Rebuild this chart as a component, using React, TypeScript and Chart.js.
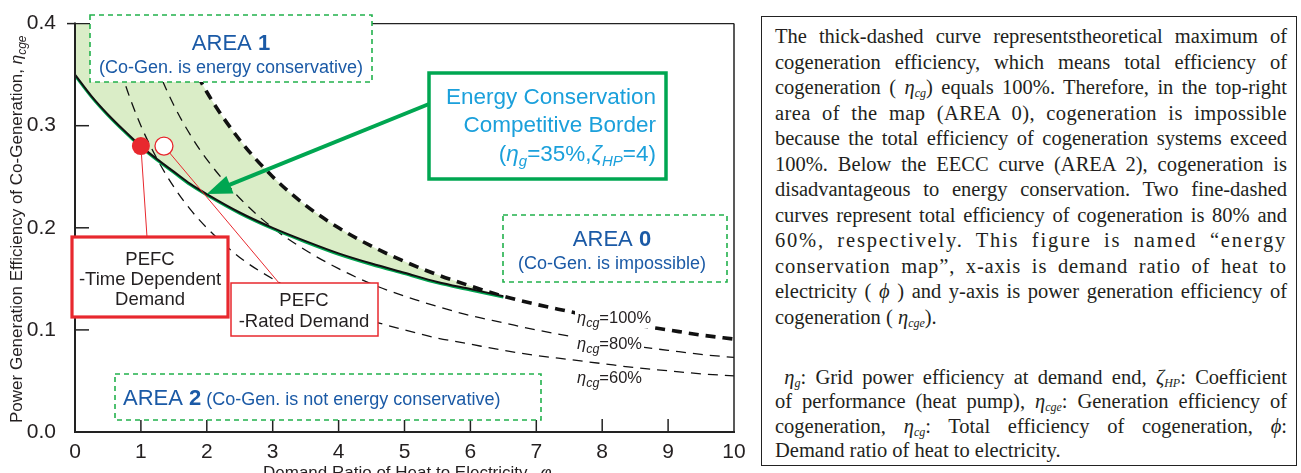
import React, { useEffect, useRef } from "react";
import { Chart, registerables } from "chart.js";

Chart.register(...registerables);

// ---------- data ----------
const PHI = [0, 0.25, 0.5, 0.75, 1, 1.25, 1.5, 1.75, 2, 2.5, 3, 3.5, 4, 4.5, 5, 5.5, 6, 6.5, 7, 7.5, 8, 8.5, 9, 9.5, 10];
const ETA_CG_100 = [1.0, 0.8, 0.667, 0.571, 0.5, 0.444, 0.4, 0.364, 0.333, 0.286, 0.25, 0.222, 0.2, 0.182, 0.167, 0.154, 0.143, 0.133, 0.125, 0.118, 0.111, 0.105, 0.1, 0.095, 0.091];
const ETA_CG_80 = [0.8, 0.64, 0.533, 0.457, 0.4, 0.356, 0.32, 0.291, 0.267, 0.229, 0.2, 0.178, 0.16, 0.145, 0.133, 0.123, 0.114, 0.107, 0.1, 0.094, 0.089, 0.084, 0.08, 0.076, 0.073];
const ETA_CG_60 = [0.6, 0.48, 0.4, 0.343, 0.3, 0.267, 0.24, 0.218, 0.2, 0.171, 0.15, 0.133, 0.12, 0.109, 0.1, 0.092, 0.086, 0.08, 0.075, 0.071, 0.067, 0.063, 0.06, 0.057, 0.055];
const PHI_EECC = [0, 0.25, 0.5, 0.75, 1, 1.25, 1.5, 1.75, 2, 2.5, 3, 3.5, 4, 4.5, 5, 5.5, 6, 6.5];
const ETA_EECC = [0.35, 0.329, 0.311, 0.295, 0.28, 0.267, 0.255, 0.243, 0.233, 0.215, 0.2, 0.187, 0.175, 0.165, 0.156, 0.147, 0.14, 0.133];
const ETA_AREA1_TOP = ETA_CG_100.slice(0, PHI_EECC.length);
const PEFC_PHI = [1.0, 1.35];
const PEFC_ETA = [0.28, 0.28];
const X_TICKS = [0, 1, 2, 3, 4, 5, 6, 7, 8, 9, 10];
const Y_TICKS = [0, 0.1, 0.2, 0.3, 0.4];
const CURVE_LABELS = ["=100%", "=80%", "=60%"];
const ARROW_TARGET_INDEX = 8; // EECC point at phi = 2

// ---------- styles ----------
const SANS = '"Liberation Sans", Arial, Helvetica, sans-serif';
const SERIF = '"Liberation Serif", "Times New Roman", serif';
const GREEN = "#00a651";
const DASH_GREEN = "#22b14c";
const FILL_GREEN = "#daedc7";
const BLUE = "#1b5aa6";
const LIGHT_BLUE = "#1ba0db";
const RED = "#e8282e";
const INK = "#231f20";

type Part = { t: string; size: number; italic?: boolean; bold?: boolean; dy?: number };

function fontOf(p: Part) {
  return `${p.italic ? "italic " : ""}${p.bold ? "bold " : ""}${p.size}px ${SANS}`;
}
function richWidth(ctx: CanvasRenderingContext2D, parts: Part[]) {
  let w = 0;
  for (const p of parts) {
    ctx.font = fontOf(p);
    w += ctx.measureText(p.t).width;
  }
  return w;
}
function drawRich(ctx: CanvasRenderingContext2D, parts: Part[], x: number, y: number, align: "left" | "center" | "right", color: string) {
  const w = richWidth(ctx, parts);
  let cx = align === "left" ? x : align === "center" ? x - w / 2 : x - w;
  ctx.textAlign = "left";
  ctx.textBaseline = "alphabetic";
  ctx.fillStyle = color;
  for (const p of parts) {
    ctx.font = fontOf(p);
    ctx.fillText(p.t, cx, y + (p.dy || 0));
    cx += ctx.measureText(p.t).width;
  }
  return w;
}
function dashedBox(ctx: CanvasRenderingContext2D, x0: number, y0: number, x1: number, y1: number) {
  ctx.save();
  ctx.fillStyle = "#fff";
  ctx.fillRect(x0, y0, x1 - x0, y1 - y0);
  ctx.setLineDash([5, 4]);
  ctx.strokeStyle = DASH_GREEN;
  ctx.lineWidth = 1.6;
  ctx.strokeRect(x0, y0, x1 - x0, y1 - y0);
  ctx.restore();
}
function solidBox(ctx: CanvasRenderingContext2D, x0: number, y0: number, x1: number, y1: number, color: string, lw: number) {
  ctx.save();
  ctx.fillStyle = "#fff";
  ctx.fillRect(x0, y0, x1 - x0, y1 - y0);
  ctx.strokeStyle = color;
  ctx.lineWidth = lw;
  ctx.strokeRect(x0, y0, x1 - x0, y1 - y0);
  ctx.restore();
}
function line(ctx: CanvasRenderingContext2D, x0: number, y0: number, x1: number, y1: number, color: string, lw: number) {
  ctx.save();
  ctx.strokeStyle = color;
  ctx.lineWidth = lw;
  ctx.beginPath();
  ctx.moveTo(x0, y0);
  ctx.lineTo(x1, y1);
  ctx.stroke();
  ctx.restore();
}
function leader(ctx: CanvasRenderingContext2D, px: number, py: number, tx: number, ty: number, r: number) {
  const dx = tx - px, dy = ty - py;
  const d = Math.hypot(dx, dy);
  line(ctx, px + (dx / d) * r, py + (dy / d) * r, tx, ty, RED, 1);
}

const decor = {
  id: "decor",
  beforeDatasetDraw(chart: any, args: any) {
    if (args.index === 1) {
      chart.ctx.save();
      chart.ctx.translate(0, 1.2);
    }
  },
  afterDatasetDraw(chart: any, args: any) {
    if (args.index === 1) chart.ctx.restore();
  },
  afterDatasetsDraw(chart: any) {
    const ctx: CanvasRenderingContext2D = chart.ctx;
    const a = chart.chartArea;
    const xs = chart.scales.x;
    const ys = chart.scales.y;

    // frame
    line(ctx, a.left, a.top, a.right, a.top, "#222", 1.1);
    line(ctx, a.right, a.top, a.right, a.bottom, "#222", 1.5);
    line(ctx, a.left, a.top - 1, a.left, a.bottom + 1, "#222", 2);
    line(ctx, a.left - 1, a.bottom, a.right + 1, a.bottom, "#222", 2);
    for (const v of X_TICKS.slice(1, -1)) {
      const px = xs.getPixelForValue(v);
      line(ctx, px, a.bottom, px, a.bottom - 13, "#222", 1.5);
    }
    for (const v of Y_TICKS.slice(1, -1)) {
      const py = ys.getPixelForValue(v);
      line(ctx, a.left, py, a.left + 14, py, "#222", 1.5);
    }
    const p4 = ys.getPixelForValue(Y_TICKS[Y_TICKS.length - 1]);
    line(ctx, a.left - 8, p4, a.left, p4, "#222", 1.5);

    // AREA boxes
    dashedBox(ctx, 90, 15, 372, 82);
    drawRich(ctx, [{ t: "AREA ", size: 22 }, { t: "1", size: 22, bold: true }], 231, 50, "center", BLUE);
    drawRich(ctx, [{ t: "(Co-Gen. is energy conservative)", size: 18 }], 231, 72.5, "center", BLUE);

    dashedBox(ctx, 503, 215, 727, 282);
    drawRich(ctx, [{ t: "AREA ", size: 22 }, { t: "0", size: 22, bold: true }], 612, 246, "center", BLUE);
    drawRich(ctx, [{ t: "(Co-Gen. is impossible)", size: 18 }], 612, 269, "center", BLUE);

    dashedBox(ctx, 115, 374, 541, 420);
    drawRich(ctx, [{ t: "AREA ", size: 22 }, { t: "2", size: 22, bold: true }, { t: " (Co-Gen. is not energy conservative)", size: 18 }], 123, 405, "left", BLUE);

    // curve labels (white background hides the curves beneath)
    const labelBase = [322.5, 349, 383];
    CURVE_LABELS.forEach((txt, i) => {
      const parts: Part[] = [{ t: "\u03B7", size: 16.5, italic: true }, { t: "cg", size: 12.5, italic: true, dy: 4 }, { t: txt, size: 16.5 }];
      const w = richWidth(ctx, parts);
      ctx.fillStyle = "#fff";
      ctx.fillRect(575, labelBase[i] - 13, w + 4, 19);
      drawRich(ctx, parts, 577, labelBase[i], "left", INK);
    });

    // PEFC points leaders + boxes
    const p1x = xs.getPixelForValue(PEFC_PHI[0]);
    const p1y = ys.getPixelForValue(PEFC_ETA[0]);
    const p2x = xs.getPixelForValue(PEFC_PHI[1]);
    const p2y = ys.getPixelForValue(PEFC_ETA[1]);
    leader(ctx, p1x, p1y, 147, 237, 8.5);
    leader(ctx, p2x, p2y, 279, 283, 9);

    solidBox(ctx, 72, 237, 228, 317, RED, 3.2);
    drawRich(ctx, [{ t: "PEFC", size: 18.5 }], 150, 265, "center", INK);
    drawRich(ctx, [{ t: "-Time Dependent", size: 18.5 }], 150, 285, "center", INK);
    drawRich(ctx, [{ t: "Demand", size: 18.5 }], 150, 304.5, "center", INK);

    solidBox(ctx, 231, 283, 378, 336, RED, 1.5);
    drawRich(ctx, [{ t: "PEFC", size: 18.5 }], 304, 305.5, "center", INK);
    drawRich(ctx, [{ t: "-Rated Demand", size: 18.5 }], 304, 326.5, "center", INK);

    // Energy Conservation Competitive Border box + arrow
    solidBox(ctx, 429, 73, 666, 179, GREEN, 3.5);
    drawRich(ctx, [{ t: "Energy Conservation", size: 22.5 }], 656, 103.5, "right", LIGHT_BLUE);
    drawRich(ctx, [{ t: "Competitive Border", size: 22.5 }], 656, 131.5, "right", LIGHT_BLUE);
    drawRich(
      ctx,
      [
        { t: "(", size: 22.5 },
        { t: "\u03B7", size: 22.5, italic: true },
        { t: "g", size: 15, italic: true, dy: 5 },
        { t: "=35%,", size: 22.5 },
        { t: "\u03B6", size: 22.5, italic: true },
        { t: "HP", size: 15, italic: true, dy: 5 },
        { t: "=4)", size: 22.5 },
      ],
      656,
      161,
      "right",
      LIGHT_BLUE
    );
    const tx = xs.getPixelForValue(PHI_EECC[ARROW_TARGET_INDEX]);
    const ty = ys.getPixelForValue(ETA_EECC[ARROW_TARGET_INDEX]);
    const sx = 429, sy = 104;
    const dx = tx - sx, dy = ty - sy;
    const d = Math.hypot(dx, dy);
    const ux = dx / d, uy = dy / d;
    const bx = tx - ux * 25, by = ty - uy * 25;
    line(ctx, sx, sy, bx + ux * 2, by + uy * 2, GREEN, 4);
    ctx.save();
    ctx.fillStyle = GREEN;
    ctx.beginPath();
    ctx.moveTo(tx, ty);
    ctx.lineTo(bx - uy * 9.5, by + ux * 9.5);
    ctx.lineTo(bx + uy * 9.5, by - ux * 9.5);
    ctx.closePath();
    ctx.fill();
    ctx.restore();

    // axis titles
    drawRich(ctx, [{ t: "Demand Ratio of Heat to Electricity,  ", size: 17 }, { t: "\u03C6", size: 17, italic: true }], 263, 477.5, "left", INK);
    ctx.save();
    ctx.translate(22, 423);
    ctx.rotate(-Math.PI / 2);
    drawRich(ctx, [{ t: "Power Generation Efficiency of Co-Generation, ", size: 17 }, { t: "\u03B7", size: 17, italic: true }, { t: "cge", size: 12, italic: true, dy: 4 }], 0, 0, "left", INK);
    ctx.restore();
  },
};

const xy = (xsArr: number[], ysArr: number[]) => xsArr.map((x, i) => ({ x, y: ysArr[i] }));

function EnergyMapChart() {
  const ref = useRef<HTMLCanvasElement | null>(null);
  useEffect(() => {
    if (!ref.current) return;
    const chart = new Chart(ref.current, {
      type: "line",
      data: {
        datasets: [
          {
            label: "AREA 1 shading",
            data: xy(PHI_EECC, ETA_AREA1_TOP),
            borderWidth: 0,
            pointRadius: 0,
            fill: 1,
            backgroundColor: FILL_GREEN,
            cubicInterpolationMode: "monotone",
            order: 6,
          },
          {
            label: "EECC green",
            data: xy(PHI_EECC, ETA_EECC),
            borderColor: GREEN,
            borderWidth: 2.4,
            pointRadius: 0,
            fill: false,
            cubicInterpolationMode: "monotone",
            order: 2,
          },
          {
            label: "EECC",
            data: xy(PHI_EECC, ETA_EECC),
            borderColor: "#111",
            borderWidth: 2,
            pointRadius: 0,
            fill: false,
            cubicInterpolationMode: "monotone",
            order: 1,
          },
          {
            label: "eta_cg 60%",
            data: xy(PHI, ETA_CG_60),
            borderColor: "#111",
            borderWidth: 1.3,
            borderDash: [10, 7],
            pointRadius: 0,
            fill: false,
            cubicInterpolationMode: "monotone",
            order: 5,
          },
          {
            label: "eta_cg 80%",
            data: xy(PHI, ETA_CG_80),
            borderColor: "#111",
            borderWidth: 1.3,
            borderDash: [10, 7],
            pointRadius: 0,
            fill: false,
            cubicInterpolationMode: "monotone",
            order: 5,
          },
          {
            label: "eta_cg 100%",
            data: xy(PHI, ETA_CG_100),
            borderColor: "#111",
            borderWidth: 3.6,
            borderDash: [10, 7],
            pointRadius: 0,
            fill: false,
            cubicInterpolationMode: "monotone",
            order: 4,
          },
          {
            label: "PEFC",
            data: xy(PEFC_PHI, PEFC_ETA),
            showLine: false,
            pointRadius: 9,
            pointBackgroundColor: [RED, "#ffffff"],
            pointBorderColor: RED,
            pointBorderWidth: [0, 1.3],
            order: 0,
          },
        ],
      },
      options: {
        animation: false,
        responsive: false,
        devicePixelRatio: 1,
        events: [],
        layout: { padding: { top: 17, right: 26, left: 0, bottom: 0 } },
        plugins: { legend: { display: false }, tooltip: { enabled: false } },
        scales: {
          x: {
            type: "linear",
            min: 0,
            max: 10,
            grid: { display: false },
            border: { display: false },
            afterBuildTicks: (s: any) => {
              s.ticks = X_TICKS.map((v) => ({ value: v }));
            },
            ticks: { font: { family: SANS, size: 21 }, color: INK, padding: 0, maxRotation: 0, autoSkip: false },
            afterFit: (s: any) => {
              s.height = 41;
            },
          },
          y: {
            type: "linear",
            min: 0,
            max: 0.4,
            grid: { display: false },
            border: { display: false },
            afterBuildTicks: (s: any) => {
              s.ticks = Y_TICKS.map((v) => ({ value: v }));
            },
            ticks: {
              font: { family: SANS, size: 21 },
              color: INK,
              padding: 11,
              autoSkip: false,
              callback: (v: any) => Number(v).toFixed(1),
            },
            afterFit: (s: any) => {
              s.width = 75;
            },
          },
        },
      },
      plugins: [decor],
    } as any);
    return () => chart.destroy();
  }, []);
  return <canvas ref={ref} width={760} height={473} style={{ position: "absolute", left: 0, top: 0, width: 760, height: 473 }} />;
}

const Sub = ({ children }: { children: React.ReactNode }) => (
  <span style={{ fontSize: 12, fontStyle: "italic", position: "relative", top: 3, lineHeight: 0 }}>{children}</span>
);
const G = ({ children }: { children: React.ReactNode }) => <i>{children}</i>;

const FONT_SIZE = 20.5;
const LH1 = 25.5;
const LH2 = 24.5;
const PANEL_TOP = 17.6; // panel top + border
const P1_TOP = 44.5 - ((LH1 - 1.107 * FONT_SIZE) / 2 + 0.891 * FONT_SIZE) - PANEL_TOP;
const P2_TOP = 384.5 - ((LH2 - 1.107 * FONT_SIZE) / 2 + 0.891 * FONT_SIZE) - PANEL_TOP;

const Line = ({ children, last, ls, lh }: { children: React.ReactNode; last?: boolean; ls?: number; lh: number }) => (
  <div
    style={{
      height: lh,
      lineHeight: `${lh}px`,
      textAlign: last ? "left" : "justify",
      textAlignLast: last ? "left" : "justify",
      letterSpacing: ls ? `${ls}px` : undefined,
    } as any}
  >
    {children}
  </div>
);

function TextPanel() {
  return (
    <div
      style={{
        position: "absolute",
        left: 761,
        top: 16,
        width: 536,
        height: 450,
        boxSizing: "border-box",
        border: "1.6px solid #222",
        fontFamily: SERIF,
        fontSize: FONT_SIZE,
        color: INK,
      }}
    >
      <div style={{ position: "absolute", left: 13, width: 512, top: P1_TOP }}>
        <Line lh={LH1}>The thick-dashed curve representstheoretical maximum of</Line>
        <Line lh={LH1}>cogeneration efficiency, which means total efficiency of</Line>
        <Line lh={LH1}>
          cogeneration ( <G>η</G><Sub>cg</Sub>) equals 100%. Therefore, in the top-right
        </Line>
        <Line lh={LH1} ls={0.4}>area of the map (AREA 0), cogeneration is impossible</Line>
        <Line lh={LH1}>because the total efficiency of cogeneration systems exceed</Line>
        <Line lh={LH1}>100%. Below the EECC curve (AREA 2), cogeneration is</Line>
        <Line lh={LH1}>disadvantageous to energy conservation. Two fine-dashed</Line>
        <Line lh={LH1}>curves represent total efficiency of cogeneration is 80% and</Line>
        <Line lh={LH1} ls={1.8}>60%, respectively. This figure is named “energy</Line>
        <Line lh={LH1} ls={0.9}>conservation map”, x-axis is demand ratio of heat to</Line>
        <Line lh={LH1}>
          electricity ( <G>ϕ</G> ) and y-axis is power generation efficiency of
        </Line>
        <Line lh={LH1} last>
          cogeneration ( <G>η</G><Sub>cge</Sub>).
        </Line>
      </div>
      <div style={{ position: "absolute", left: 13, width: 512, top: P2_TOP }}>
        <Line lh={LH2}>
          {"\u00A0"}<G>η</G><Sub>g</Sub>: Grid power efficiency at demand end, <G>ζ</G><Sub>HP</Sub>: Coefficient
        </Line>
        <Line lh={LH2}>
          of performance (heat pump), <G>η</G><Sub>cge</Sub>: Generation efficiency of
        </Line>
        <Line lh={LH2}>
          cogeneration, <G>η</G><Sub>cg</Sub>: Total efficiency of cogeneration, <G>ϕ</G>:
        </Line>
        <Line lh={LH2} last>
          Demand ratio of heat to electricity.
        </Line>
      </div>
    </div>
  );
}

export default function App() {
  return (
    <div style={{ position: "absolute", left: 0, top: 0, width: 1301, height: 473, background: "#fff", overflow: "hidden" }}>
      <EnergyMapChart />
      <TextPanel />
    </div>
  );
}
